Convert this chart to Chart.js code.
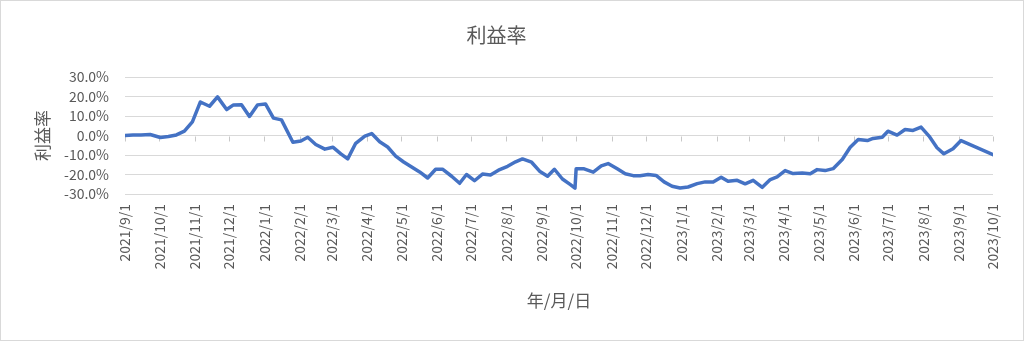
<!DOCTYPE html>
<html>
<head>
<meta charset="utf-8">
<script src="https://cdn.jsdelivr.net/npm/chart.js@4/dist/chart.umd.min.js"></script>
<style>
  html, body { margin: 0; padding: 0; background: #fff; }
  #wrap { width: 1024px; height: 341px; position: relative; }
</style>
</head>
<body>
<div id="wrap"><canvas id="rateChart" width="1024" height="341"></canvas></div>
<script>
// month labels on the x axis
const tickLabels = [
    '2021/9/1', '2021/10/1', '2021/11/1', '2021/12/1',
    '2022/1/1', '2022/2/1', '2022/3/1', '2022/4/1', '2022/5/1', '2022/6/1',
    '2022/7/1', '2022/8/1', '2022/9/1', '2022/10/1', '2022/11/1', '2022/12/1',
    '2023/1/1', '2023/2/1', '2023/3/1', '2023/4/1', '2023/5/1', '2023/6/1',
    '2023/7/1', '2023/8/1', '2023/9/1', '2023/10/1'
];

const yTicks = [-30, -20, -10, 0, 10, 20, 30];

// observation dates
const dates = [
    '2021/9/1', '2021/9/8', '2021/9/15', '2021/9/23', '2021/10/2', '2021/10/9',
    '2021/10/16', '2021/10/23', '2021/10/30', '2021/11/6', '2021/11/14', '2021/11/21',
    '2021/11/29', '2021/12/5', '2021/12/12', '2021/12/19', '2021/12/26',
    '2022/1/2', '2022/1/9', '2022/1/16', '2022/1/26', '2022/2/2', '2022/2/8',
    '2022/2/15', '2022/2/23', '2022/3/2', '2022/3/9', '2022/3/15', '2022/3/22',
    '2022/3/30', '2022/4/5', '2022/4/12', '2022/4/19', '2022/4/26', '2022/5/3',
    '2022/5/10', '2022/5/17', '2022/5/24', '2022/5/31', '2022/6/6', '2022/6/14',
    '2022/6/21', '2022/6/27', '2022/7/4', '2022/7/11', '2022/7/18', '2022/7/25',
    '2022/8/2', '2022/8/9', '2022/8/15', '2022/8/23', '2022/8/30', '2022/9/6',
    '2022/9/12', '2022/9/19', '2022/9/26', '2022/9/30', '2022/10/1', '2022/10/8',
    '2022/10/16', '2022/10/23', '2022/10/29', '2022/11/6', '2022/11/13', '2022/11/20',
    '2022/11/26', '2022/12/3', '2022/12/10', '2022/12/17', '2022/12/24', '2022/12/31',
    '2023/1/7', '2023/1/15', '2023/1/22', '2023/1/29', '2023/2/5', '2023/2/11',
    '2023/2/19', '2023/2/26', '2023/3/5', '2023/3/13', '2023/3/20', '2023/3/26',
    '2023/4/2', '2023/4/9', '2023/4/17', '2023/4/24', '2023/4/30', '2023/5/7',
    '2023/5/14', '2023/5/22', '2023/5/29', '2023/6/5', '2023/6/13', '2023/6/18',
    '2023/6/26', '2023/7/1', '2023/7/9', '2023/7/16', '2023/7/23', '2023/7/30',
    '2023/8/6', '2023/8/13', '2023/8/19', '2023/8/27', '2023/9/3', '2023/10/1'
];

// 利益率 (%)
const profitRate = [
    0.0, 0.2, 0.3, 0.5, -1.0, -0.5,
    0.3, 2.2, 7.0, 17.2, 15.0, 19.8,
    13.3, 15.7, 15.8, 9.8, 15.7,
    16.2, 8.9, 8.0, -3.5, -2.8, -0.9,
    -4.6, -7.0, -6.0, -9.4, -12.0, -4.0,
    -0.3, 1.0, -3.2, -5.9, -10.6, -13.6,
    -16.2, -18.7, -21.8, -17.3, -17.3, -20.9,
    -24.5, -20.0, -23.2, -19.8, -20.3, -17.8,
    -15.8, -13.5, -12.0, -13.7, -18.3, -20.9,
    -17.3, -22.3, -25.2, -27.0, -17.1, -17.1,
    -18.8, -15.6, -14.4, -17.1, -19.6, -20.6,
    -20.6, -20.0, -20.5, -23.8, -26.0, -26.9,
    -26.4, -24.7, -23.8, -23.8, -21.4, -23.5,
    -23.0, -24.8, -23.0, -26.6, -22.6, -21.2,
    -18.0, -19.5, -19.2, -19.6, -17.5, -18.0,
    -17.0, -12.3, -6.0, -2.0, -2.6, -1.5,
    -0.9, 2.2, 0.2, 3.1, 2.6, 4.3,
    -0.3, -6.3, -9.4, -6.8, -2.6, -9.8
];

const lineClr = '#4472C4';
const textClr = '#595959';
const gridClr = '#d9d9d9';
const fontFamily = '"Noto Sans CJK JP", "Noto Sans", sans-serif';

function toDay(s) {
    const p = s.split('/').map(Number);
    return Date.UTC(p[0], p[1] - 1, p[2]) / 86400000;
}
const startDay = toDay(tickLabels[0]);
const tickDays = tickLabels.map(function (s) { return toDay(s) - startDay; });
const points = dates.map(function (d, i) {
    return { x: toDay(d) - startDay, y: profitRate[i] };
});

// outer frame + small tick marks on the 0% line
const decorations = {
    id: 'decorations',
    beforeDatasetsDraw: function (chart) {
        const ctx = chart.ctx;
        const x = chart.scales.x;
        const y0 = Math.round(chart.scales.y.getPixelForValue(0)) + 0.5;
        ctx.save();
        ctx.strokeStyle = '#c8c8c8';
        ctx.lineWidth = 1;
        ctx.beginPath();
        tickDays.forEach(function (d) {
            const px = Math.round(x.getPixelForValue(d)) + 0.5;
            ctx.moveTo(px, y0);
            ctx.lineTo(px, y0 + 5);
        });
        ctx.stroke();
        ctx.restore();
    },
    afterDraw: function (chart) {
        const ctx = chart.ctx;
        ctx.save();
        ctx.strokeStyle = gridClr;
        ctx.lineWidth = 1;
        ctx.strokeRect(0.5, 0.5, chart.width - 1, chart.height - 1);
        ctx.restore();
    }
};

new Chart(document.getElementById('rateChart'), {
    type: 'line',
    data: {
        datasets: [{
            label: '利益率',
            data: points,
            borderColor: lineClr,
            backgroundColor: lineClr,
            borderWidth: 3.5,
            borderJoinStyle: 'round',
            borderCapStyle: 'round',
            pointRadius: 0,
            tension: 0
        }]
    },
    options: {
        responsive: false,
        animation: false,
        layout: {
            padding: { left: 0, right: 31, top: 0, bottom: 0 }
        },
        scales: {
            x: {
                type: 'linear',
                min: tickDays[0],
                max: tickDays[tickDays.length - 1],
                afterBuildTicks: function (scale) {
                    scale.ticks = tickDays.map(function (v) { return { value: v }; });
                },
                afterFit: function (scale) {
                    scale.height = 147;
                },
                grid: { display: false, drawTicks: false },
                border: { display: false },
                ticks: {
                    autoSkip: false,
                    minRotation: 90,
                    maxRotation: 90,
                    padding: 10,
                    color: textClr,
                    font: { family: fontFamily, size: 14 },
                    callback: function (value, index) {
                        return tickLabels[index];
                    }
                },
                title: {
                    display: true,
                    text: '年/月/日',
                    color: textClr,
                    font: { family: fontFamily, size: 17 },
                    padding: { top: 0, bottom: 30 }
                }
            },
            y: {
                min: yTicks[0],
                max: yTicks[yTicks.length - 1],
                afterBuildTicks: function (scale) {
                    scale.ticks = yTicks.map(function (v) { return { value: v }; });
                },
                afterFit: function (scale) {
                    scale.width = 125;
                },
                grid: { color: gridClr, lineWidth: 1, drawTicks: false },
                border: { display: false },
                ticks: {
                    autoSkip: false,
                    padding: 16,
                    color: textClr,
                    font: { family: fontFamily, size: 14 },
                    callback: function (value) {
                        return value.toFixed(1) + '%';
                    }
                },
                title: {
                    display: true,
                    text: '利益率',
                    color: textClr,
                    font: { family: fontFamily, size: 17 },
                    padding: { top: 32, bottom: 0 }
                }
            }
        },
        plugins: {
            legend: { display: false },
            tooltip: { enabled: false },
            title: {
                display: true,
                text: '利益率',
                color: textClr,
                font: { family: fontFamily, size: 20, weight: 'normal' },
                padding: { top: 23, bottom: 30 }
            }
        }
    },
    plugins: [decorations]
});
</script>
</body>
</html>
